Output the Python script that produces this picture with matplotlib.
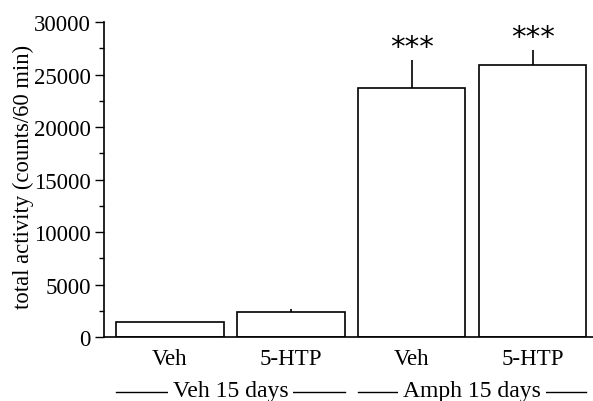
import matplotlib
matplotlib.use("Agg")
import matplotlib.pyplot as plt
import matplotlib.transforms as mtransforms
import numpy as np

categories = ["Veh", "5-HTP", "Veh", "5-HTP"]
values = [1480, 2420, 23700, 25900]
errors = [0, 250, 2650, 1450]
stars = ["", "", "***", "***"]
groups = ["Veh 15 days", "Amph 15 days"]
group_members = [[0, 1], [2, 3]]
yticks = [0, 5000, 10000, 15000, 20000, 25000, 30000]

plt.rcParams['font.family'] = ['Liberation Serif', 'DejaVu Serif']

fig = plt.figure(figsize=(5.93, 4.02), dpi=100)
ax = fig.add_axes([0.1754, 0.159, 0.8246, 0.7836])

x = np.arange(len(categories))
width = 0.89
ax.bar(x, values, width=width, color="white", edgecolor="black", linewidth=1.2, zorder=2)
err_idx = [i for i, e in enumerate(errors) if e > 0]
ax.errorbar(x[err_idx], np.array(values)[err_idx],
            yerr=[np.zeros(len(err_idx)), np.array(errors)[err_idx]],
            fmt="none", ecolor="black", elinewidth=1.2, capsize=0, zorder=1)

for i, s in enumerate(stars):
    if s:
        ax.annotate(s, xy=(x[i], values[i] + errors[i]), xytext=(0, 13),
                    textcoords="offset pixels", ha="center", va="center",
                    fontsize=21, family=["DejaVu Sans"])

ax.set_xlim(-0.545, 3.5)
ax.set_ylim(0, 30000)
ax.set_yticks(yticks)
ax.set_yticklabels([str(t) for t in yticks])
ax.set_yticks(np.arange(2500, 30000, 5000), minor=True)
ax.set_xticks(x)
ax.set_xticklabels(categories)
ax.tick_params(axis="x", length=0, pad=8, labelsize=16.5)
ax.tick_params(axis="y", which="major", direction="out", length=6.5, width=1.0, pad=3, labelsize=16.5)
ax.tick_params(axis="y", which="minor", direction="out", length=3.5, width=1.0)
for sp in ["top", "right"]:
    ax.spines[sp].set_visible(False)
for sp in ["left", "bottom"]:
    ax.spines[sp].set_linewidth(1.2)

ax.set_ylabel("total activity (counts/60 min)", fontsize=16.3)
ax.yaxis.set_label_coords(-0.143, 0.51)

trans = mtransforms.blended_transform_factory(ax.transData, ax.transAxes)
for g, members in zip(groups, group_members):
    left = x[members[0]] - width / 2
    right = x[members[-1]] + width / 2
    ax.plot([left, right], [-0.175, -0.175], color="black", lw=1.0,
            transform=trans, clip_on=False)
    ax.text((left + right) / 2, -0.168, g, transform=trans, ha="center", va="center",
            fontsize=17,
            bbox=dict(boxstyle="square,pad=0.2", facecolor="white", edgecolor="none"))

fig.savefig("out.png", dpi=100)
